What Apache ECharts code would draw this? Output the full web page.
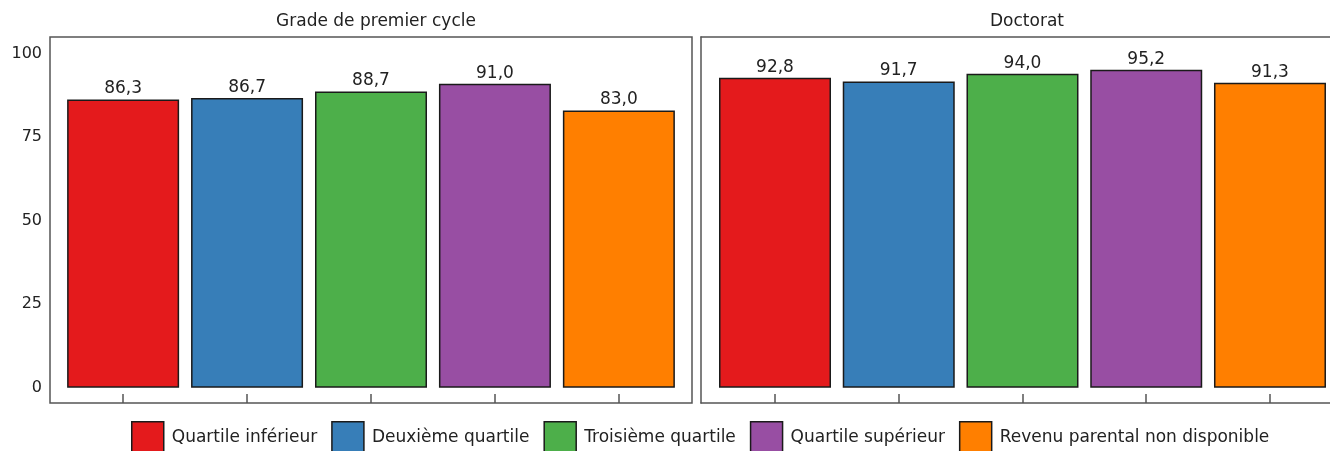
<!DOCTYPE html>
<html>
<head>
<meta charset="utf-8">
<script src="https://cdn.jsdelivr.net/npm/echarts@6/dist/echarts.min.js"></script>
<style>
html,body{margin:0;padding:0;background:#fff;}
#chart{width:1330px;height:451px;}
</style>
</head>
<body>
<div id="chart"></div>
<script>
const categories = ['Quartile inférieur', 'Deuxième quartile', 'Troisième quartile', 'Quartile supérieur', 'Revenu parental non disponible'];
const panels = ['Grade de premier cycle', 'Doctorat'];
const undergradValues = [86.3, 86.7, 88.7, 91.0, 83.0];
const doctorateValues = [92.8, 91.7, 94.0, 95.2, 91.3];
const yTicks = [0, 25, 50, 75, 100];
const colors = ['#E41A1C', '#377EB8', '#4DAF4A', '#984EA3', '#FF7F00'];

const panelValues = [undergradValues, doctorateValues];
const FONT = 'DejaVu Sans';
const FRAME = '#555';

const series = [];
panelValues.forEach((vals, p) => {
  vals.forEach((v, i) => {
    series.push({
      type: 'bar',
      name: categories[i],
      xAxisIndex: p,
      yAxisIndex: p,
      data: [[i, v]],
      barWidth: 112,
      barGap: '-100%',
      itemStyle: { color: colors[i], borderColor: '#1a1a1a', borderWidth: 1.5 },
      label: {
        show: true,
        position: 'top',
        distance: 2,
        color: '#222',
        fontFamily: FONT,
        fontSize: 17,
        formatter: (prm) => prm.value[1].toFixed(1).replace('.', ',')
      }
    });
  });
});

const tickStyle = { show: true, inside: true, length: 9, customValues: [0, 1, 2, 3, 4], lineStyle: { color: FRAME, width: 1.5 } };

const chart = echarts.init(document.getElementById('chart'), null, { renderer: 'canvas' });
chart.setOption({
  animation: false,
  backgroundColor: '#fff',
  title: [
    { text: panels[0], left: 371, top: 8, textAlign: 'center',
      textStyle: { fontFamily: FONT, fontSize: 17, fontWeight: 'normal', color: '#222' } },
    { text: panels[1], left: 1022, top: 8, textAlign: 'center',
      textStyle: { fontFamily: FONT, fontSize: 17, fontWeight: 'normal', color: '#222' } }
  ],
  grid: [
    { left: 50, top: 37, width: 642, height: 366, show: true, borderColor: FRAME, borderWidth: 1.5, backgroundColor: 'transparent' },
    { left: 701, top: 37, width: 629, height: 366, show: false }
  ],
  xAxis: [
    { type: 'value', gridIndex: 0, min: -0.59, max: 4.59,
      axisLine: { show: false, onZero: false }, splitLine: { show: false },
      axisLabel: { show: false }, axisTick: tickStyle },
    { type: 'value', gridIndex: 1, min: -0.598, max: 4.485, position: 'bottom',
      axisLine: { show: true, onZero: false, lineStyle: { color: FRAME, width: 1.5 } }, splitLine: { show: false },
      axisLabel: { show: false }, axisTick: tickStyle },
    { type: 'value', gridIndex: 1, min: -0.598, max: 4.485, position: 'top',
      axisLine: { show: true, onZero: false, lineStyle: { color: FRAME, width: 1.5 } }, splitLine: { show: false },
      axisLabel: { show: false }, axisTick: { show: false } }
  ],
  yAxis: [
    { type: 'value', gridIndex: 0, min: -4.6, max: 105,
      axisLine: { show: false }, splitLine: { show: false }, axisTick: { show: false },
      axisLabel: { show: true, customValues: yTicks, margin: 8, color: '#222', fontFamily: FONT, fontSize: 16 } },
    { type: 'value', gridIndex: 1, min: -4.6, max: 105, position: 'left',
      axisLine: { show: true, onZero: false, lineStyle: { color: FRAME, width: 1.5 } }, splitLine: { show: false }, axisTick: { show: false },
      axisLabel: { show: false } }
  ],
  legend: {
    data: categories,
    left: 131,
    top: 421,
    padding: 0,
    itemWidth: 32,
    itemHeight: 32,
    itemGap: 14,
    icon: 'rect',
    itemStyle: { borderColor: '#1a1a1a', borderWidth: 1.5 },
    textStyle: { fontFamily: FONT, fontSize: 17, color: '#222', padding: [2, 0, 0, 3] }
  },
  series: series
});
</script>
</body>
</html>
